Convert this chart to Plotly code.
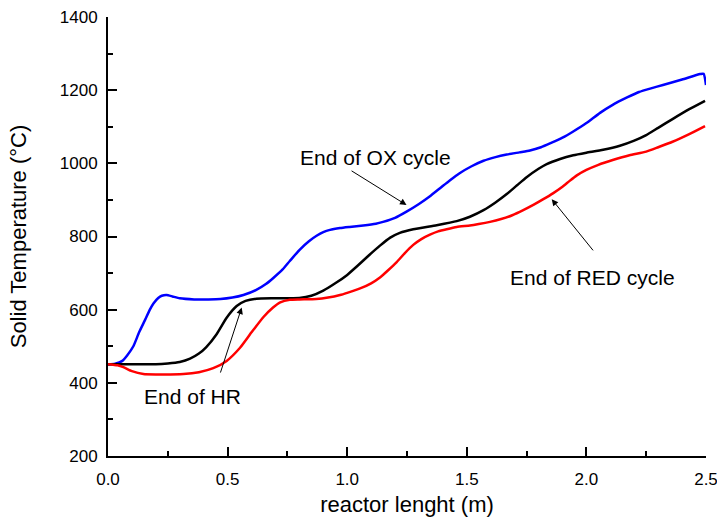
import plotly.graph_objects as go

# Solid temperature profiles along the reactor at the end of each cycle
ox_x = [0, 0.03, 0.06, 0.08, 0.106, 0.13, 0.155, 0.175, 0.19, 0.21, 0.225, 0.245, 0.27, 0.30,
        0.36, 0.42, 0.47, 0.52, 0.566, 0.62, 0.66, 0.69, 0.73, 0.76, 0.80, 0.84, 0.872, 0.90,
        0.928, 0.97, 1.01, 1.067, 1.12, 1.15, 1.20, 1.248, 1.30, 1.346, 1.388, 1.43, 1.47,
        1.52, 1.57, 1.62, 1.667, 1.72, 1.764, 1.81, 1.85, 1.90, 1.945, 2.0, 2.057, 2.11,
        2.17, 2.22, 2.27, 2.32, 2.40, 2.475, 2.49, 2.5]
ox_y = [450, 452, 460, 475, 500, 538, 572, 600, 617, 632, 638, 640, 636, 631,
        628, 628, 629, 633, 640, 654, 670, 686, 710, 733, 763, 787, 802, 812,
        818, 823, 826, 830, 835, 840, 851, 868, 889, 910, 932, 954, 973,
        992, 1007, 1017, 1024, 1030, 1035, 1044, 1055, 1070, 1087, 1110, 1138, 1160,
        1180, 1195, 1205, 1214, 1229, 1244, 1245, 1214]

hr_x = [0, 0.1, 0.2, 0.25, 0.30, 0.343, 0.38, 0.41, 0.454, 0.496, 0.538, 0.575, 0.62, 0.70,
        0.80, 0.85, 0.90, 0.95, 1.0, 1.04, 1.09, 1.137, 1.18, 1.22, 1.276, 1.374, 1.458,
        1.513, 1.57, 1.62, 1.667, 1.71, 1.75, 1.8, 1.834, 1.89, 1.945, 2.0, 2.07, 2.14, 2.2,
        2.25, 2.3, 2.36, 2.43, 2.496]
hr_y = [451, 451, 451, 453, 457, 466, 480, 497, 533, 578, 610, 624, 630, 631,
        632, 638, 652, 672, 695, 718, 748, 775, 797, 810, 820, 831, 842,
        854, 872, 893, 916, 940, 962, 985, 998, 1012, 1022, 1029, 1037, 1048, 1062,
        1077, 1097, 1121, 1148, 1171]

red_x = [0, 0.04, 0.064, 0.10, 0.148, 0.2, 0.315, 0.38, 0.44, 0.496, 0.552, 0.60, 0.65, 0.69,
         0.72, 0.76, 0.80, 0.87, 0.92, 0.97, 1.0, 1.054, 1.10, 1.137, 1.17, 1.207, 1.24,
         1.276, 1.31, 1.346, 1.38, 1.416, 1.458, 1.513, 1.55, 1.597, 1.64, 1.69, 1.736, 1.78,
         1.82, 1.86, 1.90, 1.93, 1.96, 2.0, 2.05, 2.11, 2.18, 2.25, 2.30, 2.36, 2.43, 2.496]
red_y = [451, 448, 443, 432, 424, 423, 424, 429, 440, 460, 496, 538, 580, 606,
         620, 627, 628, 629, 633, 640, 646, 658, 672, 688, 707, 730, 754,
         777, 793, 805, 814, 820, 826, 830, 834, 840, 847, 858, 872, 887,
         902, 918, 936, 952, 967, 982, 996, 1009, 1022, 1032, 1044, 1059, 1080, 1102]

x_ticks = [0.0, 0.5, 1.0, 1.5, 2.0, 2.5]
y_ticks = [200, 400, 600, 800, 1000, 1200, 1400]

FONT = "Liberation Sans, Arial, sans-serif"

fig = go.Figure()
for xs, ys, color, name in [(ox_x, ox_y, "#0000ff", "End of OX cycle"),
                            (hr_x, hr_y, "#000000", "End of HR"),
                            (red_x, red_y, "#ff0000", "End of RED cycle")]:
    fig.add_trace(go.Scatter(x=xs, y=ys, mode="lines", name=name,
                             line=dict(color=color, width=2.5, shape="spline", smoothing=0.5)))

# Labels with arrows pointing to the curves
labels = [
    dict(text="End of OX cycle", tx=1.12, ty=1015, head=(1.248, 886), tail=(1.012, 982)),
    dict(text="End of HR", tx=0.353, ty=364, head=(0.559, 606), tail=(0.468, 424)),
    dict(text="End of RED cycle", tx=2.026, ty=688, head=(1.855, 902), tail=(2.033, 758)),
]
for a in labels:
    fig.add_annotation(x=a["tx"], y=a["ty"], text=a["text"], showarrow=False,
                       font=dict(family=FONT, size=21, color="#000000"))
    fig.add_annotation(x=a["head"][0], y=a["head"][1], ax=a["tail"][0], ay=a["tail"][1],
                       axref="x", ayref="y", text="", showarrow=True,
                       arrowhead=2, arrowsize=1.3, arrowwidth=1, arrowcolor="#000000")

axis_common = dict(showline=True, linecolor="#000000", linewidth=2, ticks="inside",
                   ticklen=9, tickwidth=2, tickcolor="#000000", showgrid=False,
                   zeroline=False, mirror=False, ticklabeloverflow="allow", automargin=False,
                   tickfont=dict(family=FONT, size=17, color="#000000"))

fig.update_xaxes(range=[0, 2.5], tickvals=x_ticks, ticktext=[f"{v:.1f}" for v in x_ticks],
                 minor=dict(dtick=0.25, ticks="inside", ticklen=5, tickwidth=1.5, tickcolor="#000000"),
                 title=dict(text="reactor lenght (m)", font=dict(family=FONT, size=22, color="#000000"),
                            standoff=12),
                 ticklabelstandoff=7,
                 **axis_common)
fig.update_yaxes(range=[200, 1400], tickvals=y_ticks, ticktext=[str(v) for v in y_ticks],
                 minor=dict(dtick=100, ticks="inside", ticklen=5, tickwidth=1.5, tickcolor="#000000"),
                 title=dict(text="Solid Temperature (°C)", font=dict(family=FONT, size=22, color="#000000"),
                            standoff=27),
                 ticklabelstandoff=5,
                 **axis_common)

fig.update_layout(width=717, height=517, showlegend=False,
                  margin=dict(l=108, r=11, t=17, b=61),
                  plot_bgcolor="#ffffff", paper_bgcolor="#ffffff")

fig.write_html("out.html")
